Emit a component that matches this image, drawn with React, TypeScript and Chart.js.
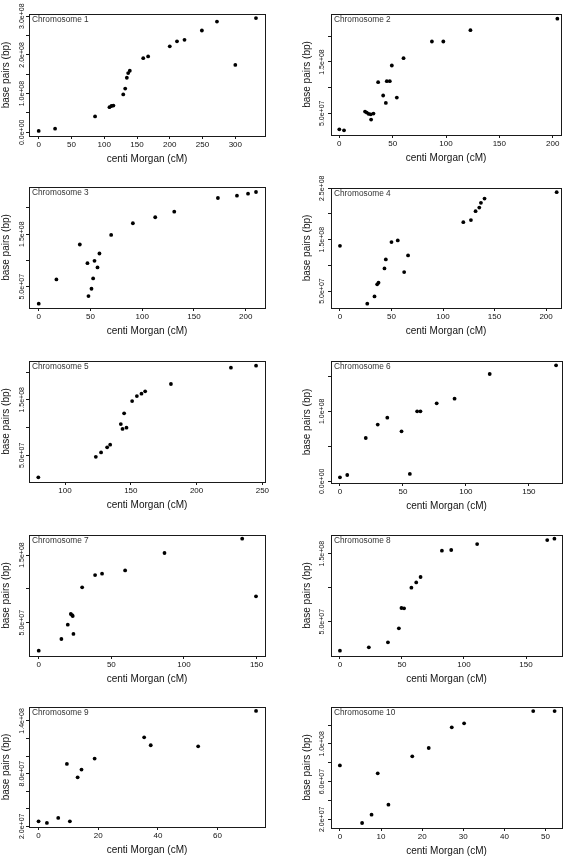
import React, { useEffect, useRef } from "react";
import { Chart, registerables } from "chart.js";

Chart.register(...registerables);

const FONT = '"Liberation Sans", Arial, Helvetica, sans-serif';
Chart.defaults.font.family = FONT;

// ---------------- data (centi Morgan vs base pairs) ----------------
const chr1CM = [0, 25, 86, 108, 111, 114, 129, 132, 134.5, 136.5, 139, 159.5, 167, 200, 211, 222.5, 249, 272, 300, 331.5];
const chr1BP = [3.5e6, 9.5e6, 4.1e7, 6.5e7, 6.8e7, 6.9e7, 9.8e7, 1.13e8, 1.41e8, 1.53e8, 1.59e8, 1.915e8, 1.96e8, 2.22e8, 2.35e8, 2.39e8, 2.63e8, 2.86e8, 1.74e8, 2.95e8];

const chr2CM = [0, 4.4, 24.1, 25.7, 27.6, 29.5, 32, 29.8, 36.4, 41.1, 43.6, 44.5, 47.3, 49.2, 53.9, 60.2, 86.8, 97.5, 122.9, 204.4];
const chr2BP = [1.87e7, 1.68e7, 5.33e7, 5.13e7, 4.87e7, 4.8e7, 4.93e7, 3.76e7, 1.106e8, 8.46e7, 7.02e7, 1.126e8, 1.126e8, 1.432e8, 8.06e7, 1.575e8, 1.9e8, 1.9e8, 2.12e8, 2.345e8];

const chr3CM = [0, 17.1, 39.7, 47.1, 48.1, 51, 52.6, 53.9, 56.8, 58.7, 70, 91, 112.6, 131, 173.2, 191.6, 202.3, 210];
const chr3BP = [1.77e7, 6.39e7, 1.304e8, 9.49e7, 3.23e7, 4.62e7, 6.58e7, 9.94e7, 8.67e7, 1.133e8, 1.487e8, 1.709e8, 1.823e8, 1.93e8, 2.19e8, 2.234e8, 2.272e8, 2.304e8];

const chr4CM = [0, 26.5, 33.5, 36.1, 37.4, 43.2, 44.5, 50, 56.1, 62.3, 66.1, 119.7, 127.1, 131.6, 135.2, 136.8, 140.3, 210.3];
const chr4BP = [1.38e8, 2.54e7, 3.96e7, 6.3e7, 6.62e7, 9.4e7, 1.116e8, 1.452e8, 1.484e8, 8.7e7, 1.193e8, 1.84e8, 1.88e8, 2.055e8, 2.125e8, 2.216e8, 2.3e8, 2.423e8];

const chr5CM = [79.7, 123.4, 127.4, 132, 134.3, 142.4, 143.7, 146.7, 144.9, 151, 154.6, 158.1, 160.9, 180.5, 226.1, 245.2];
const chr5BP = [1.04e7, 4.74e7, 5.52e7, 6.44e7, 6.92e7, 1.064e8, 9.75e7, 9.99e7, 1.256e8, 1.478e8, 1.568e8, 1.61e8, 1.653e8, 1.785e8, 2.079e8, 2.115e8];

const chr6CM = [0, 5.8, 20.5, 30, 37.6, 48.9, 55.5, 61.3, 63.9, 76.8, 91, 118.9, 171.6];
const chr6BP = [5.7e6, 9e6, 6.19e7, 8.1e7, 9.1e7, 7.14e7, 1.05e7, 1.0e8, 1.0e8, 1.114e8, 1.181e8, 1.533e8, 1.657e8];

const chr7CM = [0, 15.6, 20, 22.1, 23, 23.4, 23.9, 29.9, 38.8, 43.6, 59.5, 86.6, 140.1, 149.6];
const chr7BP = [8.6e6, 2.59e7, 4.7e7, 6.28e7, 6.13e7, 5.99e7, 3.33e7, 1.022e8, 1.204e8, 1.224e8, 1.273e8, 1.53e8, 1.741e8, 8.89e7];

const chr8CM = [0, 23.3, 38.7, 47.5, 49.6, 51.7, 57.6, 61.5, 65, 82.2, 89.7, 110.6, 167.1, 172.9];
const chr8BP = [7.4e6, 1.23e7, 1.96e7, 4.02e7, 7.01e7, 6.96e7, 1.0e8, 1.078e8, 1.157e8, 1.544e8, 1.554e8, 1.642e8, 1.701e8, 1.721e8];

const chr9CM = [0, 2.8, 6.6, 9.5, 10.5, 13.1, 14.4, 18.8, 35.4, 37.6, 53.5, 72.9];
const chr9BP = [2.57e7, 2.38e7, 2.95e7, 9.1e7, 2.57e7, 7.58e7, 8.46e7, 9.71e7, 1.214e8, 1.123e8, 1.111e8, 1.514e8];

const chr10CM = [0, 5.4, 7.7, 9.2, 11.8, 17.6, 21.6, 27.2, 30.2, 47, 52.2];
const chr10BP = [7.72e7, 1.61e7, 2.49e7, 6.88e7, 3.55e7, 8.68e7, 9.56e7, 1.175e8, 1.218e8, 1.348e8, 1.348e8];

// ---------------- axis ranges & ticks ----------------
const chromosomeNames = ["Chromosome 1", "Chromosome 2", "Chromosome 3", "Chromosome 4", "Chromosome 5", "Chromosome 6", "Chromosome 7", "Chromosome 8", "Chromosome 9", "Chromosome 10"];

const xRanges = [[-14.8, 345.3], [-7.8, 207.8], [-9.4, 218.7], [-8.7, 214.5], [72.6, 252], [-7.1, 176.3], [-6.7, 155.8], [-7.2, 179], [-3.2, 75.9], [-2.16, 54]];
const yRanges = [[-9.5e6, 3.056e8], [7.6e6, 2.436e8], [9.5e6, 2.399e8], [1.7e7, 2.505e8], [2e6, 2.199e8], [-2.4e6, 1.719e8], [7.4e5, 1.796e8], [-5e5, 1.775e8], [1.92e7, 1.559e8], [1.08e7, 1.391e8]];

const xTicks = [
  [0, 50, 100, 150, 200, 250, 300],
  [0, 50, 100, 150, 200],
  [0, 50, 100, 150, 200],
  [0, 50, 100, 150, 200],
  [100, 150, 200, 250],
  [0, 50, 100, 150],
  [0, 50, 100, 150],
  [0, 50, 100, 150],
  [0, 20, 40, 60],
  [0, 10, 20, 30, 40, 50],
];
const yTicks = [
  [0, 5e7, 1e8, 1.5e8, 2e8, 2.5e8, 3e8],
  [5e7, 1e8, 1.5e8, 2e8],
  [5e7, 1e8, 1.5e8, 2e8],
  [5e7, 1e8, 1.5e8, 2e8, 2.5e8],
  [5e7, 1e8, 1.5e8, 2e8],
  [0, 5e7, 1e8, 1.5e8],
  [5e7, 1e8, 1.5e8],
  [5e7, 1e8, 1.5e8],
  [2e7, 4e7, 6e7, 8e7, 1e8, 1.2e8, 1.4e8],
  [2e7, 4e7, 6e7, 8e7, 1e8, 1.2e8],
];
const yTickLabels = [
  ["0.0e+00", "", "1.0e+08", "", "2.0e+08", "", "3.0e+08"],
  ["5.0e+07", "", "1.5e+08", ""],
  ["5.0e+07", "", "1.5e+08", ""],
  ["5.0e+07", "", "1.5e+08", "", "2.5e+08"],
  ["5.0e+07", "", "1.5e+08", ""],
  ["0.0e+00", "", "1.0e+08", ""],
  ["5.0e+07", "", "1.5e+08"],
  ["5.0e+07", "", "1.5e+08"],
  ["2.0e+07", "", "", "8.0e+07", "", "", "1.4e+08"],
  ["2.0e+07", "", "6.0e+07", "", "1.0e+08", ""],
];

const cmSeries = [chr1CM, chr2CM, chr3CM, chr4CM, chr5CM, chr6CM, chr7CM, chr8CM, chr9CM, chr10CM];
const bpSeries = [chr1BP, chr2BP, chr3BP, chr4BP, chr5BP, chr6BP, chr7BP, chr8BP, chr9BP, chr10BP];

// ---------------- layout (absolute plot boxes: left, top, right, bottom) ----------------
const BOXES = [
  [29, 14, 265, 136], [331, 14, 561, 135],
  [29, 187, 265, 308], [331, 188, 561, 308],
  [29, 361, 265, 482], [331, 361, 563, 483],
  [29, 535, 265, 656], [331, 535, 565, 656],
  [29, 707, 265, 827], [331, 707, 565, 828],
];
const CANVAS_W = 283;
const ROW_H = 171;
const LAST_ROW_H = 173;
const X_TITLE_BELOW = 23;
const Y_TITLE_X = [6, 307];
const Y_LABEL_GAP = [7, 9];
const TEXT = "#111";

function Panel({ idx }: { idx: number }) {
  const ref = useRef<HTMLCanvasElement | null>(null);
  const col = idx % 2;
  const row = Math.floor(idx / 2);
  const cl = col * CANVAS_W;
  const ct = row * ROW_H;
  const ch = row === 4 ? LAST_ROW_H : ROW_H;

  useEffect(() => {
    const box = BOXES[idx];
    const cm = cmSeries[idx];
    const bp = bpSeries[idx];
    const yt = yTicks[idx];
    const yl = yTickLabels[idx];
    const name = chromosomeNames[idx];
    const gap = Y_LABEL_GAP[col];

    const deco = {
      id: "panelDeco" + idx,
      afterDraw(chart: any) {
        const { ctx, chartArea: a, scales } = chart;
        ctx.save();
        ctx.strokeStyle = "#1a1a1a";
        ctx.lineWidth = 1;
        ctx.strokeRect(Math.round(a.left) + 0.5, Math.round(a.top) + 0.5, Math.round(a.right - a.left), Math.round(a.bottom - a.top));
        ctx.fillStyle = TEXT;
        ctx.font = `7px ${FONT}`;
        ctx.textAlign = "center";
        ctx.textBaseline = "middle";
        yt.forEach((v: number, i: number) => {
          const lbl = yl[i];
          if (!lbl) return;
          const py = scales.y.getPixelForValue(v);
          ctx.save();
          ctx.translate(a.left - gap, py);
          ctx.rotate(-Math.PI / 2);
          ctx.fillText(lbl, 0, 0);
          ctx.restore();
        });
        ctx.font = `8.3px ${FONT}`;
        ctx.fillStyle = "#333";
        ctx.textAlign = "left";
        ctx.fillText(name, a.left + 3, a.top + 5.5);
        ctx.restore();
      },
    };

    const gridOpts = {
      drawOnChartArea: false,
      drawTicks: true,
      tickLength: 3,
      color: "#1a1a1a",
      lineWidth: 1,
    };

    const chart = new Chart(ref.current as HTMLCanvasElement, {
      type: "scatter",
      data: {
        datasets: [
          {
            data: cm.map((x: number, i: number) => ({ x, y: bp[i] })),
            pointRadius: 1.9,
            pointBackgroundColor: "#000",
            pointBorderColor: "#000",
            pointBorderWidth: 0,
            showLine: false,
          },
        ],
      },
      options: {
        responsive: false,
        animation: false,
        events: [],
        layout: {
          padding: { left: 0, top: box[1] - ct, right: cl + CANVAS_W - box[2], bottom: 0 },
        },
        plugins: { legend: { display: false }, tooltip: { enabled: false } },
        scales: {
          x: {
            type: "linear",
            position: "bottom",
            min: xRanges[idx][0],
            max: xRanges[idx][1],
            bounds: "data",
            afterBuildTicks: (s: any) => {
              s.ticks = xTicks[idx].map((v) => ({ value: v }));
            },
            afterFit: (s: any) => {
              s.height = ct + ch - box[3];
            },
            grid: gridOpts,
            border: { display: false },
            ticks: {
              autoSkip: false,
              maxRotation: 0,
              minRotation: 0,
              padding: 1,
              color: TEXT,
              font: { family: FONT, size: 8, lineHeight: 1.1 },
            },
            title: {
              display: true,
              text: "centi Morgan (cM)",
              color: TEXT,
              font: { family: FONT, size: 10, lineHeight: 1 },
              padding: { top: 0, bottom: ct + ch - box[3] - X_TITLE_BELOW - 5 },
            },
          },
          y: {
            type: "linear",
            position: "left",
            min: yRanges[idx][0],
            max: yRanges[idx][1],
            bounds: "data",
            afterBuildTicks: (s: any) => {
              s.ticks = yt.map((v: number) => ({ value: v }));
            },
            afterFit: (s: any) => {
              s.width = box[0] - cl;
            },
            grid: gridOpts,
            border: { display: false },
            ticks: {
              callback: () => "",
              padding: 0,
              font: { family: FONT, size: 7 },
            },
            title: {
              display: true,
              text: "base pairs (bp)",
              color: TEXT,
              font: { family: FONT, size: 10, lineHeight: 1 },
              padding: { top: Y_TITLE_X[col] - cl - 5, bottom: 0 },
            },
          },
        },
      } as any,
      plugins: [deco],
    });
    return () => chart.destroy();
  }, [idx]);

  return (
    <canvas
      ref={ref}
      width={CANVAS_W}
      height={ch}
      style={{ position: "absolute", left: cl, top: ct, width: CANVAS_W, height: ch }}
    />
  );
}

export default function App() {
  useEffect(() => {
    document.body.style.margin = "0";
  }, []);
  return (
    <div style={{ position: "relative", width: 566, height: 857, background: "#fff", overflow: "hidden" }}>
      {chromosomeNames.map((_, i) => (
        <Panel key={i} idx={i} />
      ))}
    </div>
  );
}
